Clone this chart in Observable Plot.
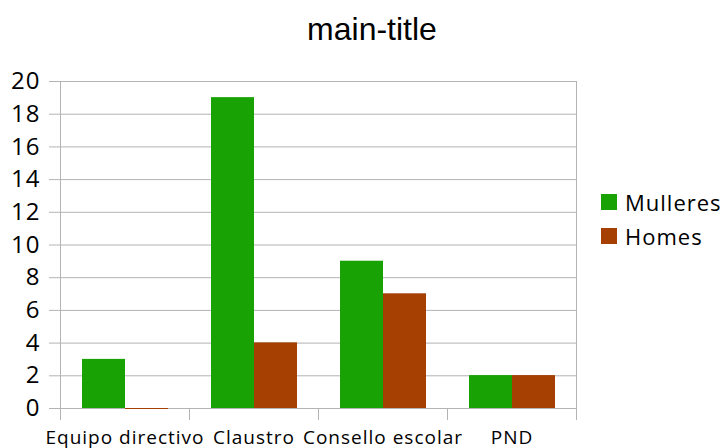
<!DOCTYPE html>
<html>
<head>
<meta charset="utf-8">
<script src="https://cdn.jsdelivr.net/npm/d3@7"></script>
<script src="https://cdn.jsdelivr.net/npm/@observablehq/plot@0.6"></script>
<style>
  body { margin: 0; background: #fff; }
  #chart { position: relative; width: 727px; height: 448px; overflow: hidden; font-family: "Open Sans", sans-serif; color: #000; }
  #title { position: absolute; left: 0; top: 11px; width: 744px; text-align: center; font: 32px "Liberation Sans", Arial, sans-serif; }
  #plot { position: absolute; left: 0; top: 60px; }
  #plot svg [aria-label="fx-axis tick label"] text { letter-spacing: 1px; }
  #plot svg [aria-label="y-axis tick label"] text { letter-spacing: 1px; }
  #legend { position: absolute; left: 601px; top: 185px; font-size: 22px; letter-spacing: 1px; }
  .item { display: flex; align-items: center; height: 34px; }
  .sw { width: 16px; height: 16px; margin-right: 8px; flex: none; }
</style>
</head>
<body>
<div id="chart">
  <div id="title">main-title</div>
  <div id="plot"></div>
  <div id="legend"></div>
</div>
<script>
const categories = ["Equipo directivo", "Claustro", "Consello escolar", "PND"];
const seriesNames = ["Mulleres", "Homes"];
const mulleres = [3, 19, 9, 2];
const homes = [0, 4, 7, 2];
const yTicks = [0, 2, 4, 6, 8, 10, 12, 14, 16, 18, 20];
const seriesColors = ["#19a204", "#a53f02"];
const gridColor = "#b3b3b3";

const rows = categories.flatMap((cat, i) => [
  {cat, series: seriesNames[0], value: mulleres[i]},
  {cat, series: seriesNames[1], value: homes[i]}
]);

const chart = Plot.plot({
  width: 590,
  height: 388,
  marginLeft: 59,
  marginRight: 13,
  marginTop: 21,
  marginBottom: 40,
  style: {fontFamily: "'Open Sans', sans-serif", background: "#fff"},
  fx: {domain: categories, padding: 0, label: null, axis: null},
  x: {domain: seriesNames, paddingInner: 0, paddingOuter: 0.486, axis: null},
  y: {domain: [0, 20], axis: null},
  color: {domain: seriesNames, range: seriesColors},
  marks: [
    Plot.ruleY(yTicks, {stroke: gridColor}),
    Plot.axisY({ticks: yTicks, tickSize: 11, tickPadding: 9, stroke: gridColor, fill: "#000", strokeOpacity: 1, fontSize: 24, label: null}),
    Plot.barY(rows, {fx: "cat", x: "series", y: "value", fill: "series"}),
    // top edge of each bar, so a zero value still shows as a line
    Plot.tickY(rows, {fx: "cat", x: "series", y: "value", stroke: "series"}),
    Plot.axisFx({anchor: "bottom", tickSize: 0, tickPadding: 22, fontSize: 19, label: null, fill: "#000"})
  ]
});

// frame sides and category separator ticks, placed with the fx scale
const fxScale = chart.scale("fx");
const yScale = chart.scale("y");
const yTop = yScale.apply(20), yBase = yScale.apply(0);
const edges = categories.map(c => fxScale.apply(c));
edges.push(fxScale.apply(categories[categories.length - 1]) + fxScale.bandwidth);
const svg = d3.select(chart);
edges.forEach((x, i) => {
  const full = i === 0 || i === edges.length - 1;
  svg.append("line")
    .attr("x1", Math.round(x) + 0.5).attr("x2", Math.round(x) + 0.5)
    .attr("y1", full ? yTop : yBase).attr("y2", yBase + 12)
    .attr("stroke", gridColor);
});

document.getElementById("plot").appendChild(chart);

const legend = d3.select("#legend");
seriesNames.forEach((name, i) => {
  const item = legend.append("div").attr("class", "item");
  item.append("div").attr("class", "sw").style("background", seriesColors[i]);
  item.append("span").text(name);
});
</script>
</body>
</html>
